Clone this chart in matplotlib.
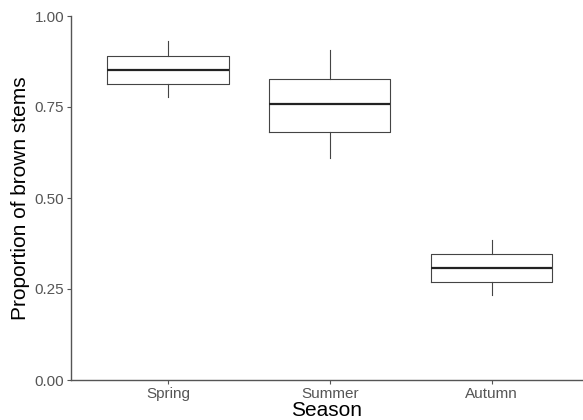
import matplotlib
matplotlib.use("Agg")
import matplotlib.pyplot as plt

plt.rcParams['font.family'] = ['Liberation Sans', 'DejaVu Sans']

seasons = ["Spring", "Summer", "Autumn"]
whisker_low = [0.777, 0.610, 0.234]
q1 = [0.813, 0.681, 0.269]
median = [0.852, 0.758, 0.308]
q3 = [0.890, 0.827, 0.346]
whisker_high = [0.931, 0.907, 0.385]
y_ticks = [0.00, 0.25, 0.50, 0.75, 1.00]
y_ticklabels = ["0.00", "0.25", "0.50", "0.75", "1.00"]

fig = plt.figure(figsize=(5.83, 4.20), dpi=100)
ax = fig.add_axes([71/583, 1 - 380/420, 1 - 71/583, (380 - 16)/420])

stats = []
for i, s in enumerate(seasons):
    stats.append(dict(label=s, whislo=whisker_low[i], q1=q1[i], med=median[i],
                      q3=q3[i], whishi=whisker_high[i], fliers=[]))

ax.bxp(stats, positions=[1, 2, 3], widths=0.75, showcaps=False,
       boxprops=dict(color="#444444", linewidth=0.8),
       whiskerprops=dict(color="#444444", linewidth=0.8),
       medianprops=dict(color="#222222", linewidth=1.6))

ax.set_xlim(0.4, 3.565)
ax.set_ylim(0, 1.0)
ax.set_yticks(y_ticks)
ax.set_yticklabels(y_ticklabels)
ax.set_xticks([1, 2, 3])
ax.set_xticklabels(seasons)

for side in ["top", "right"]:
    ax.spines[side].set_visible(False)
for side in ["left", "bottom"]:
    ax.spines[side].set_color("#555555")
    ax.spines[side].set_linewidth(1.0)

ax.tick_params(axis="both", colors="#555555", length=3, width=0.8,
               labelsize=11, labelcolor="#555555", pad=2)

ax.set_ylabel("Proportion of brown stems", fontsize=15, color="black", labelpad=3)
ax.set_xlabel("Season", fontsize=15, color="black", labelpad=0)

fig.savefig("out.png", dpi=100)
